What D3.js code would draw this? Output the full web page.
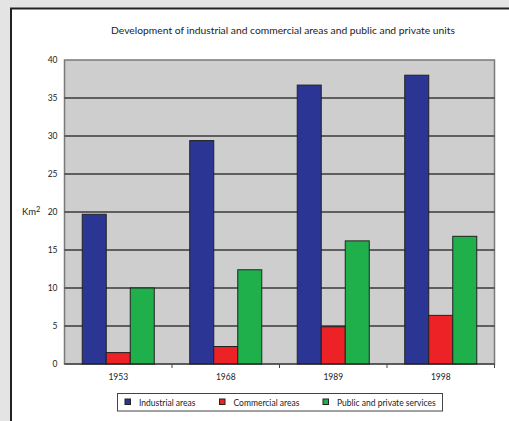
<!DOCTYPE html>
<html>
<head>
<meta charset="utf-8">
<script src="https://cdn.jsdelivr.net/npm/d3@7"></script>
<style>
  html, body { margin: 0; padding: 0; background: #e4e4e4; }
  svg { display: block; }
  text { font-family: Lato, "Open Sans", sans-serif; fill: #222; }
</style>
</head>
<body>
<svg id="chart" width="509" height="421"></svg>
<script>
const years = ["1953", "1968", "1989", "1998"];
const seriesNames = ["Industrial areas", "Commercial areas", "Public and private services"];
const industrial = [19.7, 29.4, 36.7, 38.0];
const commercial = [1.5, 2.3, 4.9, 6.4];
const services = [10.0, 12.4, 16.2, 16.8];
const colors = ["#2b3593", "#ed2227", "#1fb04c"];
const yTicks = [0, 5, 10, 15, 20, 25, 30, 35, 40];

const series = [industrial, commercial, services];

const svg = d3.select("#chart");

// white panel with dark frame on the left and top
svg.append("rect").attr("x", 11).attr("y", 8.5).attr("width", 520).attr("height", 440)
  .attr("fill", "#fff").attr("stroke", "#222").attr("stroke-width", 2);

const plot = { left: 64.5, right: 494.5, top: 60, bottom: 364 };

const x0 = d3.scaleBand().domain(years).range([plot.left, plot.right]).paddingInner(0.33).paddingOuter(0.165);
const x1 = d3.scaleBand().domain(d3.range(series.length)).range([0, x0.bandwidth()]);
const y = d3.scaleLinear().domain([0, 40]).range([plot.bottom, plot.top]);

// title
svg.append("text").attr("x", 283).attr("y", 34).attr("text-anchor", "middle")
  .attr("font-size", 10.3).text("Development of industrial and commercial areas and public and private units");

// plot background
svg.append("rect").attr("x", plot.left).attr("y", plot.top)
  .attr("width", plot.right - plot.left).attr("height", plot.bottom - plot.top)
  .attr("fill", "#cecece").attr("stroke", "#7a7a7a").attr("stroke-width", 1.5);

// horizontal gridlines
svg.append("g").selectAll("line").data(yTicks.filter(d => d > 0 && d < 40)).join("line")
  .attr("x1", plot.left).attr("x2", plot.right)
  .attr("y1", d => y(d)).attr("y2", d => y(d))
  .attr("stroke", "#3a3a3a").attr("stroke-width", 1.3);

// y axis labels
const yAxis = d3.axisLeft(y).tickValues(yTicks).tickSize(0).tickPadding(7);
const gy = svg.append("g").attr("transform", `translate(${plot.left},0)`).call(yAxis);
gy.select(".domain").remove();
gy.selectAll("text").attr("font-size", 8.5).attr("font-family", "Lato, 'Open Sans', sans-serif").attr("fill", "#222");

// unit label
const unit = svg.append("text").attr("x", 22).attr("y", 215).attr("font-size", 9.5);
unit.append("tspan").text("Km");
unit.append("tspan").attr("font-size", 7.5).attr("dy", -3).text("2");

// bars
const groups = svg.append("g").selectAll("g").data(years).join("g")
  .attr("transform", d => `translate(${x0(d)},0)`);
groups.selectAll("rect").data((d, i) => series.map((s, k) => ({ k, v: s[i] }))).join("rect")
  .attr("x", d => x1(d.k)).attr("width", x1.bandwidth())
  .attr("y", d => y(d.v)).attr("height", d => y(0) - y(d.v))
  .attr("fill", d => colors[d.k]).attr("stroke", "#222").attr("stroke-width", 1);

// x axis with ticks at category boundaries
const gx = svg.append("g").attr("transform", `translate(0,${plot.bottom})`);
gx.append("line").attr("x1", plot.left).attr("x2", plot.right).attr("stroke", "#222").attr("stroke-width", 1.2);
const step = (plot.right - plot.left) / years.length;
gx.selectAll("line.tick").data(d3.range(1, years.length + 1)).join("line").attr("class", "tick")
  .attr("x1", i => plot.left + i * step).attr("x2", i => plot.left + i * step)
  .attr("y1", 0).attr("y2", 4).attr("stroke", "#444").attr("stroke-width", 1);
gx.selectAll("text").data(years).join("text")
  .attr("x", d => x0(d) + x0.bandwidth() / 2).attr("y", 16)
  .attr("text-anchor", "middle").attr("font-size", 8.5).text(d => d);

// legend
const legend = svg.append("g");
legend.append("rect").attr("x", 117.5).attr("y", 393.5).attr("width", 325).attr("height", 17.5)
  .attr("fill", "#fff").attr("stroke", "#444").attr("stroke-width", 1);
const legendX = [125, 219.5, 323];
seriesNames.forEach((name, k) => {
  legend.append("rect").attr("x", legendX[k]).attr("y", 399).attr("width", 5.5).attr("height", 5.5)
    .attr("fill", colors[k]).attr("stroke", "#222").attr("stroke-width", 1);
  legend.append("text").attr("x", legendX[k] + 14).attr("y", 405.5).attr("font-size", 8.5).text(name);
});
</script>
</body>
</html>
